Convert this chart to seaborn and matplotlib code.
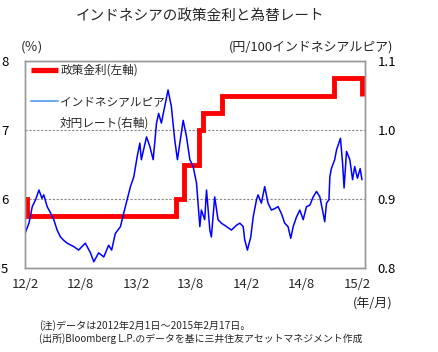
import matplotlib
matplotlib.use('Agg')
import matplotlib.pyplot as plt
import seaborn as sns
import pandas as pd
from matplotlib.lines import Line2D

sns.set_theme(style='white')
plt.rcParams['font.family'] = ['Noto Sans CJK JP', 'DejaVu Sans']

# Policy rate (BI rate, %)
rate_dates = ['2012-02-01', '2012-02-09', '2013-06-13', '2013-07-11', '2013-08-29',
              '2013-09-12', '2013-11-12', '2014-11-18', '2015-02-17']
rate_values = [6.00, 5.75, 6.00, 6.50, 7.00, 7.25, 7.50, 7.75, 7.50]

# Yen per 100 rupiah
fx_dates = ['2012-02-01', '2012-02-14', '2012-02-25', '2012-03-07', '2012-03-18', '2012-03-28',
            '2012-04-03', '2012-04-14', '2012-04-25', '2012-05-06', '2012-05-17', '2012-05-28',
            '2012-06-08', '2012-06-19', '2012-07-11', '2012-07-27', '2012-08-18', '2012-09-04',
            '2012-09-15', '2012-10-01', '2012-10-18', '2012-11-03', '2012-11-13', '2012-11-25',
            '2012-12-12', '2012-12-23', '2013-01-03', '2013-01-14', '2013-01-25', '2013-02-05',
            '2013-02-14', '2013-02-19', '2013-03-08', '2013-03-19', '2013-03-30', '2013-04-10',
            '2013-04-17', '2013-04-26', '2013-05-07', '2013-05-18', '2013-05-29', '2013-06-09',
            '2013-06-18', '2013-06-26', '2013-07-07', '2013-07-18', '2013-07-29', '2013-08-09',
            '2013-08-20', '2013-08-25', '2013-08-31', '2013-09-05', '2013-09-16', '2013-09-22',
            '2013-10-03', '2013-10-08', '2013-10-19', '2013-10-30', '2013-11-10', '2013-11-27',
            '2013-12-13', '2013-12-30', '2014-01-10', '2014-01-21', '2014-01-26', '2014-02-04',
            '2014-02-15', '2014-02-23', '2014-03-06', '2014-03-11', '2014-03-22', '2014-04-02',
            '2014-04-13', '2014-04-24', '2014-05-05', '2014-05-16', '2014-05-27', '2014-06-07',
            '2014-06-18', '2014-06-27', '2014-07-05', '2014-07-16', '2014-07-27', '2014-08-07',
            '2014-08-18', '2014-08-29', '2014-09-09', '2014-09-20', '2014-10-01', '2014-10-12',
            '2014-10-17', '2014-10-23', '2014-10-31', '2014-11-03', '2014-11-08', '2014-11-19',
            '2014-11-25', '2014-12-08', '2014-12-15', '2014-12-20', '2014-12-28', '2015-01-08',
            '2015-01-17', '2015-01-24', '2015-02-02', '2015-02-11', '2015-02-17']
fx_values = [0.850, 0.865, 0.889, 0.899, 0.913, 0.901,
             0.906, 0.889, 0.880, 0.870, 0.855, 0.845,
             0.840, 0.836, 0.831, 0.826, 0.836, 0.822,
             0.809, 0.822, 0.816, 0.833, 0.826, 0.850,
             0.860, 0.880, 0.899, 0.918, 0.932, 0.961,
             0.981, 0.957, 0.990, 0.976, 0.957, 1.010,
             1.024, 1.010, 1.034, 1.058, 1.034, 0.986,
             0.957, 0.981, 1.014, 0.990, 0.957, 0.947,
             0.923, 0.894, 0.860, 0.884, 0.870, 0.913,
             0.855, 0.845, 0.903, 0.870, 0.865, 0.860,
             0.855, 0.862, 0.865, 0.860, 0.841, 0.826,
             0.845, 0.874, 0.899, 0.906, 0.894, 0.918,
             0.894, 0.884, 0.886, 0.889, 0.879, 0.865,
             0.860, 0.843, 0.860, 0.874, 0.884, 0.870,
             0.889, 0.891, 0.903, 0.911, 0.903, 0.879,
             0.867, 0.894, 0.899, 0.932, 0.944, 0.957,
             0.971, 0.988, 0.952, 0.916, 0.969, 0.957,
             0.928, 0.947, 0.930, 0.944, 0.928]

tick_dates = ['2012-02-01', '2012-08-01', '2013-02-01', '2013-08-01',
              '2014-02-01', '2014-08-01', '2015-02-01']
tick_labels = ['12/2', '12/8', '13/2', '13/8', '14/2', '14/8', '15/2']
left_ticks = [5, 6, 7, 8]
right_ticks = [0.8, 0.9, 1.0, 1.1]
right_labels = ['0.8', '0.9', '1.0', '1.1']

rate_df = pd.DataFrame({'date': pd.to_datetime(rate_dates), 'rate': rate_values})
fx_df = pd.DataFrame({'date': pd.to_datetime(fx_dates), 'fx': fx_values})

RED = '#ff0000'
BLUE = '#0000ff'
LIGHTBLUE = '#6aa8f0'
GRAY = '#999999'

fig = plt.figure(figsize=(4.38, 3.52), dpi=100)
ax = fig.add_axes([25 / 438, 1 - 268 / 352, 340 / 438, 207 / 352])
ax2 = ax.twinx()

sns.lineplot(data=rate_df, x='date', y='rate', ax=ax, color=RED, linewidth=3.5,
             drawstyle='steps-post', solid_joinstyle='miter', solid_capstyle='butt')
sns.lineplot(data=fx_df, x='date', y='fx', ax=ax2, color=BLUE, linewidth=1.1)

ax.set_xlim(pd.Timestamp('2012-02-01'), pd.Timestamp('2015-02-27'))
ax.set_ylim(5, 8)
ax2.set_ylim(0.8, 1.1)

ax.set_xticks(pd.to_datetime(tick_dates))
ax.set_xticklabels(tick_labels)
ax.set_yticks(left_ticks)
ax.set_yticklabels([str(v) for v in left_ticks])
ax2.set_yticks(right_ticks)
ax2.set_yticklabels(right_labels)

for a in (ax, ax2):
    a.set_xlabel('')
    a.set_ylabel('')
    for s in a.spines.values():
        s.set_color(GRAY)
        s.set_linewidth(1.0)

ax.yaxis.grid(True, color='#888888', linestyle=(0, (2, 1.5)), linewidth=0.8)
ax.set_axisbelow(True)

ax.tick_params(axis='y', length=0, pad=12, labelsize=9.5, colors='black')
ax2.tick_params(axis='y', length=0, pad=9, labelsize=9.5, colors='black')
ax.tick_params(axis='x', direction='in', length=3, color=GRAY, pad=7, labelsize=9.5)

handles = [Line2D([], [], color=RED, linewidth=3.8, solid_capstyle='butt'),
           Line2D([], [], color=LIGHTBLUE, linewidth=1.4)]
ax2.legend(handles, ['政策金利(左軸)', 'インドネシアルピア'], loc='upper left',
           bbox_to_anchor=(0.009, 1.0), frameon=False, fontsize=8.4,
           handlelength=2.3, handletextpad=0.2, labelspacing=1.55,
           borderaxespad=0.0, borderpad=0.25)
fig.text(60 / 438, 1 - 123 / 352, '対円レート(右軸)', fontsize=8.4, ha='left', va='center')

fig.text(200 / 438, 1 - 16 / 352, 'インドネシアの政策金利と為替レート', fontsize=10.5,
         ha='center', va='center')
fig.text(21 / 438, 1 - 47 / 352, '(％)', fontsize=9.5, ha='left', va='center')
fig.text(393 / 438, 1 - 47 / 352, '(円/100インドネシアルピア)', fontsize=9.3,
         ha='right', va='center')
fig.text(393 / 438, 1 - 304 / 352, '(年/月)', fontsize=9.3, ha='right', va='center')
fig.text(39 / 438, 1 - 326 / 352, '(注)データは2012年2月1日～2015年2月17日。', fontsize=7.3,
         ha='left', va='center')
fig.text(39 / 438, 1 - 339 / 352, '(出所)Bloomberg L.P.のデータを基に三井住友アセットマネジメント作成',
         fontsize=7.1, ha='left', va='center')

fig.savefig('out.png', dpi=100)
